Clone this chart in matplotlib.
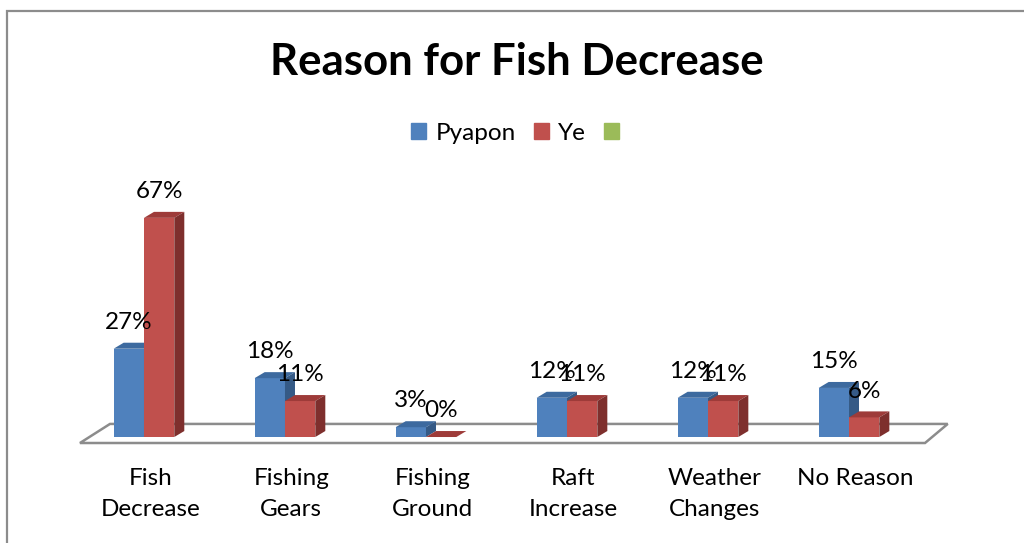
import numpy as np
import matplotlib.pyplot as plt
from matplotlib.patches import Polygon, Rectangle, Patch

# categories and survey shares (%)
categories = ["Fish\nDecrease", "Fishing\nGears", "Fishing\nGround",
              "Raft\nIncrease", "Weather\nChanges", "No Reason"]
pyapon = [27, 18, 3, 12, 12, 15]
ye = [67, 11, 0, 11, 11, 6]

FONT = ["Lato", "DejaVu Sans"]

blue = ("#4F81BD", "#3D6A9F", "#355A86")   # front, top, side
red = ("#C0504D", "#9E3B39", "#7E2F2D")
green = "#9BBB59"

fig = plt.figure(figsize=(10.24, 5.43), dpi=100)
ax = fig.add_axes([0, 0, 1, 1])
# x in category units, y in percent
ax.set_xlim(-1.021, 6.241)
ax.set_ylim(-32.4, 133.6)
ax.axis("off")

# outer chart frame
fig.patches.append(Rectangle((7 / 1024, -0.1), 1.2, 1 - 11 / 543 + 0.1,
                             transform=fig.transFigure, fill=False,
                             edgecolor="#8C8C8C", linewidth=1.6))

bw = 0.215      # bar width
ddx = 0.071     # depth offset in x
ddy = 1.83      # depth offset in y

# floor
floor = Polygon([(-0.454, -1.83), (5.539, -1.83), (5.70, 4.0), (-0.241, 4.0)],
                closed=True, facecolor="white", edgecolor="#8C8C8C",
                linewidth=1.8, zorder=1)
ax.add_patch(floor)


def bar3d(x0, v, cols):
    front, top, side = cols
    ax.bar(x0, v, width=bw, align="edge", color=front, zorder=3)
    x1 = x0 + bw
    ax.add_patch(Polygon([(x0, v), (x0 + ddx, v + ddy), (x1 + ddx, v + ddy), (x1, v)],
                         closed=True, facecolor=top, edgecolor="none", zorder=3))
    ax.add_patch(Polygon([(x1, 0), (x1 + ddx, ddy), (x1 + ddx, v + ddy), (x1, v)],
                         closed=True, facecolor=side, edgecolor="none", zorder=3))


x = np.arange(len(categories))
for i in x:
    bar3d(i - bw, pyapon[i], blue)
    bar3d(i, ye[i], red)

for i in x:
    ax.annotate(f"{pyapon[i]}%", (i - bw / 2, pyapon[i]), xytext=(0, 19),
                textcoords="offset points", ha="center", va="center",
                fontsize=17.5, family=FONT, zorder=5)
    ax.annotate(f"{ye[i]}%", (i + bw / 2, ye[i]), xytext=(0, 19),
                textcoords="offset points", ha="center", va="center",
                fontsize=17.5, family=FONT, zorder=5)

# category labels under the floor
for i, lab in enumerate(categories):
    ax.text(i + 0.045, -9.6, lab, ha="center", va="top", fontsize=17.5,
            family=FONT, linespacing=1.55)

fig.text(517 / 1024, 1 - 62 / 543, "Reason for Fish Decrease", ha="center",
         va="center", fontsize=31.5, fontweight="bold", family=FONT)

handles = [Patch(color=blue[0]), Patch(color=red[0]), Patch(color=green)]
ax.legend(handles, ["Pyapon", "Ye", ""], loc="center",
          bbox_to_anchor=(520 / 1024, 1 - 133 / 543), ncol=3, frameon=False,
          prop={"family": FONT, "size": 17.5}, handlelength=0.6,
          handleheight=0.6, handletextpad=0.4, columnspacing=0.75,
          bbox_transform=fig.transFigure)

fig.savefig("out.png", dpi=100)
